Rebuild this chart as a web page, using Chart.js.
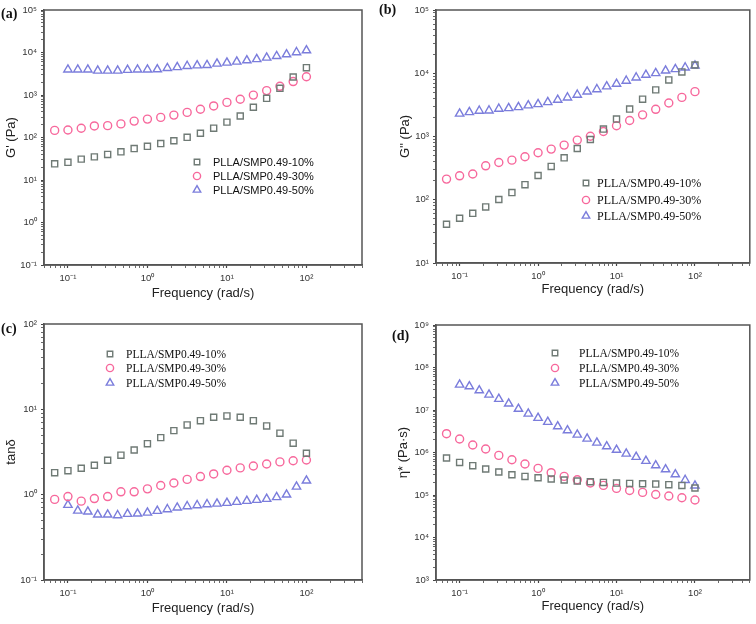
<!DOCTYPE html>
<html>
<head>
<meta charset="utf-8">
<script src="https://cdn.jsdelivr.net/npm/chart.js@4.4.1/dist/chart.umd.min.js"></script>
<style>
  html, body { margin: 0; padding: 0; background: #fff; }
  #page { position: relative; width: 756px; height: 624px; overflow: hidden; }
  .panel { position: absolute; width: 378px; height: 312px; }
  .tag { position: absolute; font: bold 14px "Liberation Serif", serif; color: #111; }
</style>
</head>
<body>
<div id="page">
  <div class="panel" style="left:0;top:0"><canvas id="chartA" width="378" height="312"></canvas></div>
  <div class="panel" style="left:378px;top:0"><canvas id="chartB" width="378" height="312"></canvas></div>
  <div class="panel" style="left:0;top:312px"><canvas id="chartC" width="378" height="312"></canvas></div>
  <div class="panel" style="left:378px;top:312px"><canvas id="chartD" width="378" height="312"></canvas></div>
  <div class="tag" style="left:1px;top:6px">(a)</div>
  <div class="tag" style="left:379px;top:2px">(b)</div>
  <div class="tag" style="left:1px;top:321px">(c)</div>
  <div class="tag" style="left:392px;top:328px">(d)</div>
</div>
<script>
const seriesNames = ["PLLA/SMP0.49-10%", "PLLA/SMP0.49-30%", "PLLA/SMP0.49-50%"];

// frequencies (rad/s): 10% and 30% samples, 50% sample
const freqLow = [0.0681, 0.1, 0.147, 0.215, 0.316, 0.464, 0.681, 1, 1.47, 2.15, 3.16, 4.64, 6.81, 10, 14.7, 21.5, 31.6, 46.4, 68.1, 100];
const freqHigh = [0.1, 0.133, 0.178, 0.237, 0.316, 0.422, 0.562, 0.75, 1, 1.33, 1.78, 2.37, 3.16, 4.22, 5.62, 7.5, 10, 13.3, 17.8, 23.7, 31.6, 42.2, 56.2, 75, 100];

// (a) G' (Pa)
const storage10 = [24, 26, 31, 35, 40, 46, 55, 62, 72, 84, 101, 126, 166, 230, 320, 515, 835, 1435, 2650, 4400];
const storage30 = [147, 150, 165, 187, 190, 209, 243, 271, 297, 337, 390, 462, 553, 670, 795, 995, 1270, 1600, 2070, 2690];
const storage50 = [3960, 3960, 3960, 3720, 3720, 3720, 3880, 3960, 3960, 4000, 4300, 4500, 4800, 4960, 5050, 5440, 5750, 6060, 6510, 6940, 7520, 8220, 9020, 10100, 11200];

// (b) G'' (Pa)
const loss10 = [41, 51, 61, 77, 101, 130, 173, 242, 336, 460, 646, 897, 1310, 1885, 2710, 3890, 5460, 7850, 10500, 13500];
const loss30 = [212, 239, 255, 344, 388, 423, 478, 553, 632, 731, 877, 1010, 1200, 1480, 1790, 2200, 2690, 3390, 4150, 5120];
const loss50 = [2290, 2420, 2550, 2570, 2740, 2800, 2900, 3090, 3240, 3480, 3800, 4130, 4560, 5130, 5580, 6170, 6800, 7590, 8550, 9440, 10000, 11000, 11560, 12300, 13200];

// (c) tan delta
const tan10 = [1.81, 1.91, 2.04, 2.21, 2.53, 2.90, 3.34, 3.96, 4.66, 5.63, 6.56, 7.37, 8.08, 8.37, 8.08, 7.37, 6.39, 5.25, 4.01, 3.06];
const tan30 = [0.88, 0.95, 0.84, 0.90, 0.95, 1.08, 1.08, 1.17, 1.28, 1.37, 1.51, 1.63, 1.75, 1.93, 2.06, 2.17, 2.29, 2.42, 2.50, 2.55];
const tan50 = [0.757, 0.649, 0.632, 0.583, 0.583, 0.573, 0.594, 0.599, 0.615, 0.644, 0.674, 0.705, 0.731, 0.751, 0.771, 0.784, 0.80, 0.821, 0.843, 0.867, 0.891, 0.933, 1.0, 1.24, 1.46];

// (d) complex viscosity (Pa s)
const eta10 = [7.43e5, 5.85e5, 4.89e5, 4.09e5, 3.48e5, 3.0e5, 2.74e5, 2.55e5, 2.38e5, 2.25e5, 2.13e5, 2.05e5, 1.98e5, 1.91e5, 1.87e5, 1.84e5, 1.81e5, 1.75e5, 1.68e5, 1.46e5];
const eta30 = [2.77e6, 2.08e6, 1.50e6, 1.21e6, 8.55e5, 6.77e5, 5.36e5, 4.23e5, 3.35e5, 2.74e5, 2.29e5, 1.92e5, 1.68e5, 1.43e5, 1.28e5, 1.15e5, 1.03e5, 9.47e4, 8.63e4, 7.62e4];
const eta50 = [3.94e7, 3.59e7, 2.89e7, 2.29e7, 1.82e7, 1.41e7, 1.06e7, 8.19e6, 6.49e6, 5.22e6, 4.11e6, 3.31e6, 2.62e6, 2.11e6, 1.70e6, 1.39e6, 1.15e6, 9.38e5, 7.84e5, 6.31e5, 4.97e5, 4.0e5, 3.05e5, 2.25e5, 1.66e5];

const markerStyles = [
  { pointStyle: "rect", color: "#6f7a75", radius: 4.3 },
  { pointStyle: "circle", color: "#f7689c", radius: 4 },
  { pointStyle: "triangle", color: "#7b7ddc", radius: 4.8 },
];

const supDigits = { "-": "\u207B", 0: "\u2070", 1: "\u00B9", 2: "\u00B2", 3: "\u00B3", 4: "\u2074", 5: "\u2075", 6: "\u2076", 7: "\u2077", 8: "\u2078", 9: "\u2079" };

function powerLabel(value) {
  const exp = Math.log10(value);
  const rounded = Math.round(exp);
  if (Math.abs(exp - rounded) > 1e-6) return "";
  return "10" + String(rounded).split("").map((c) => supDigits[c]).join("");
}

function dropHalfSteps(scale) {
  scale.ticks = scale.ticks.filter((t) => {
    const m = t.value / Math.pow(10, Math.floor(Math.log10(t.value) + 1e-9));
    return Math.abs(m - 1.5) > 1e-6;
  });
}

const framePlugin = {
  id: "frame",
  afterDraw(chart) {
    const { ctx, chartArea: a } = chart;
    ctx.save();
    ctx.strokeStyle = "#555";
    ctx.lineWidth = 1.5;
    ctx.strokeRect(a.left, a.top, a.right - a.left, a.bottom - a.top);
    ctx.restore();
  },
};

const boxLegendPlugin = {
  id: "boxLegend",
  afterDraw(chart, args, opts) {
    const ctx = chart.ctx;
    ctx.save();
    chart.data.datasets.forEach((ds, i) => {
      const y = opts.rows[i];
      ctx.strokeStyle = ds.borderColor;
      ctx.fillStyle = "rgba(0,0,0,0)";
      ctx.lineWidth = 1.4;
      Chart.helpers.drawPoint(ctx, { pointStyle: ds.pointStyle, radius: ds.pointRadius * 0.9, borderWidth: 1.4, rotation: 0 }, opts.symbolX, y);
      ctx.fillStyle = "#111";
      ctx.font = opts.font;
      ctx.textBaseline = "middle";
      ctx.fillText(ds.label, opts.textX, y + 0.5);
    });
    ctx.restore();
  },
};

function makeDatasets(xsList, ysList) {
  return ysList.map((ys, i) => ({
    label: seriesNames[i],
    data: ys.map((y, j) => ({ x: xsList[i][j], y })),
    showLine: false,
    pointStyle: markerStyles[i].pointStyle,
    pointRadius: markerStyles[i].radius,
    pointHoverRadius: markerStyles[i].radius,
    pointBorderWidth: 1.4,
    borderColor: markerStyles[i].color,
    backgroundColor: "rgba(0,0,0,0)",
  }));
}

function axisBase(min, max, pad) {
  return {
    type: "logarithmic",
    min,
    max,
    afterBuildTicks: dropHalfSteps,
    border: { display: true, color: "#555", width: 1.5 },
    grid: {
      drawOnChartArea: false,
      drawTicks: true,
      tickLength: 3,
      tickColor: "#444",
      tickWidth: (c) => (c.tick && c.tick.major ? 1.2 : 0.8),
    },
    ticks: {
      autoSkip: false,
      maxRotation: 0,
      padding: pad,
      color: "#333",
      font: { family: "Liberation Sans, Arial, sans-serif", size: 9.5 },
      callback: (v) => powerLabel(v),
    },
  };
}

function makePanel(id, cfg) {
  const xAxis = axisBase(0.05, 500, 5);
  xAxis.title = { display: true, text: "Frequency (rad/s)", color: "#222", font: { family: "Liberation Sans, Arial, sans-serif", size: 13 }, padding: { top: 3, bottom: 0 } };
  xAxis.afterFit = (s) => { s.height = cfg.xh; };
  const yAxis = axisBase(cfg.yMin, cfg.yMax, 4);
  yAxis.title = { display: true, text: cfg.yTitle, color: "#222", font: { family: "Liberation Sans, Arial, sans-serif", size: 13 }, padding: { top: 4, bottom: 0 } };
  yAxis.afterFit = (s) => { s.width = cfg.yw; };

  return new Chart(document.getElementById(id), {
    type: "scatter",
    data: { datasets: makeDatasets([freqLow, freqLow, freqHigh], cfg.values) },
    options: {
      responsive: false,
      animation: false,
      events: [],
      layout: { padding: cfg.padding },
      scales: { x: xAxis, y: yAxis },
      plugins: {
        legend: { display: false },
        tooltip: { enabled: false },
        boxLegend: cfg.legend,
      },
    },
    plugins: [framePlugin, boxLegendPlugin],
  });
}

makePanel("chartA", {
  values: [storage10, storage30, storage50],
  yMin: 0.1, yMax: 1e5, yTitle: "G' (Pa)", xh: 36, yw: 44,
  padding: { left: 0, right: 16, top: 10, bottom: 11 },
  legend: { symbolX: 197, textX: 213, rows: [162, 176, 190], font: "11px Liberation Sans, Arial, sans-serif" },
});

makePanel("chartB", {
  values: [loss10, loss30, loss50],
  yMin: 10, yMax: 1e5, yTitle: "G'' (Pa)", xh: 34, yw: 42,
  padding: { left: 16, right: 6, top: 10, bottom: 15 },
  legend: { symbolX: 208, textX: 219, rows: [183, 200, 216], font: "12px Liberation Serif, serif" },
});

makePanel("chartC", {
  values: [tan10, tan30, tan50],
  yMin: 0.1, yMax: 100, yTitle: "tan\u03B4", xh: 36, yw: 44,
  padding: { left: 0, right: 16, top: 12, bottom: 8 },
  legend: { symbolX: 110, textX: 126, rows: [42, 56, 71], font: "11.5px Liberation Serif, serif" },
});

makePanel("chartD", {
  values: [eta10, eta30, eta50],
  yMin: 1e3, yMax: 1e9, yTitle: "\u03B7* (Pa\u00B7s)", xh: 34, yw: 44,
  padding: { left: 14, right: 6, top: 13, bottom: 10 },
  legend: { symbolX: 177, textX: 201, rows: [41, 56, 71], font: "11.5px Liberation Serif, serif" },
});
</script>
</body>
</html>
